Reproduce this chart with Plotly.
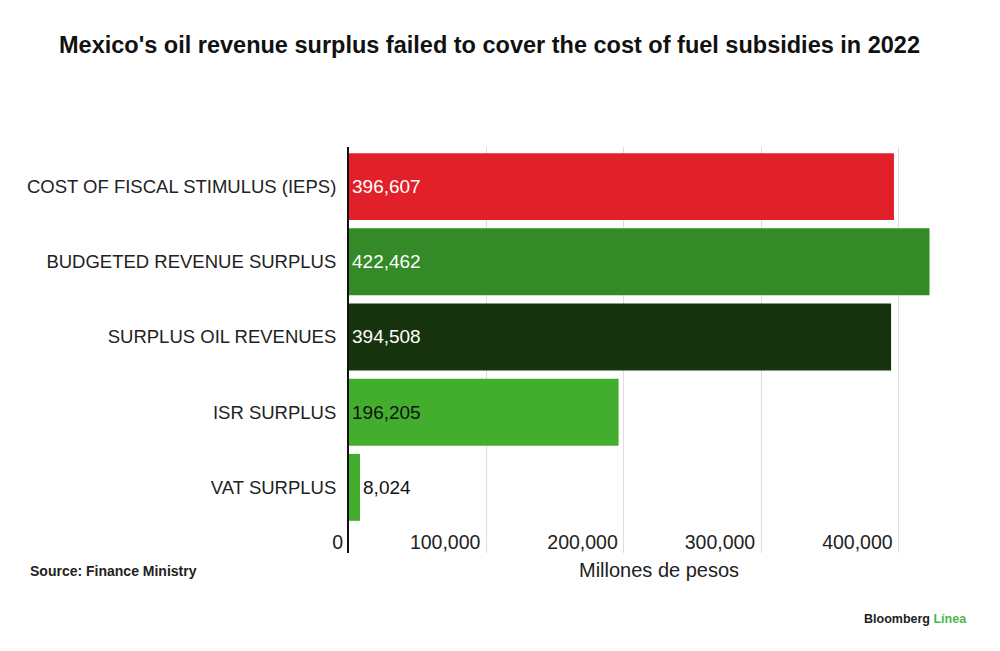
import plotly.graph_objects as go

categories = ["COST OF FISCAL STIMULUS (IEPS)", "BUDGETED REVENUE SURPLUS",
              "SURPLUS OIL REVENUES", "ISR SURPLUS", "VAT SURPLUS"]
values = [396607, 422462, 394508, 196205, 8024]
bar_colors = ["#E2202A", "#338A27", "#16330E", "#43AE2D", "#43AE2D"]
text_colors = ["white", "white", "white", "#111111", "#111111"]
text_positions = ["inside", "inside", "inside", "inside", "outside"]
tick_vals = [0, 100000, 200000, 300000, 400000]
tick_text = ["0", "100,000", "200,000", "300,000", "400,000"]

W, H = 1000, 651
L, R, T, B = 349, 965, 147, 553

def px(x):
    return (x - L) / (R - L)

def py(y):
    return (B - y) / (B - T)

fig = go.Figure(go.Bar(
    y=categories, x=values, orientation="h",
    marker=dict(color=bar_colors, line=dict(width=0)),
    text=[f"{v:,}" for v in values],
    textposition=text_positions,
    insidetextanchor="start",
    textfont=dict(color=text_colors, size=19, family="Liberation Sans"),
    cliponaxis=False,
    width=0.89,
))

fig.update_layout(
    width=W, height=H,
    margin=dict(l=L, r=W - R, t=T, b=H - B),
    paper_bgcolor="white", plot_bgcolor="white",
    showlegend=False,
    font=dict(family="Liberation Sans", color="#222222"),
    xaxis=dict(range=[0, 448300], tickvals=tick_vals, ticktext=tick_text,
               showgrid=True, gridcolor="#dddddd", gridwidth=1,
               zeroline=False, showline=False,
               ticklabelposition="inside left", ticklabeloverflow="allow",
               ticklabelshift=-6, ticklabelstandoff=-6,
               tickfont=dict(size=19.5, color="#222222")),
    yaxis=dict(range=[4.873, -0.527], showgrid=False, zeroline=False,
               showline=True, linecolor="#111111", linewidth=2,
               ticks="", ticklabelstandoff=7,
               tickfont=dict(size=18.5, color="#222222")),
    annotations=[
        dict(text="<b>Mexico's oil revenue surplus failed to cover the cost of fuel subsidies in 2022</b>",
             x=px(489), y=py(45), xref="paper", yref="paper", showarrow=False,
             xanchor="center", yanchor="middle",
             font=dict(size=23.5, color="#111111", family="Liberation Sans")),
        dict(text="<b>Source: Finance Ministry</b>", x=px(28), y=py(571),
             xref="paper", yref="paper", showarrow=False, xanchor="left", yanchor="middle",
             font=dict(size=14, color="#222222", family="Liberation Sans")),
        dict(text="Millones de pesos", x=px(659), y=py(570),
             xref="paper", yref="paper", showarrow=False, xanchor="center", yanchor="middle",
             font=dict(size=20, color="#222222", family="Liberation Sans")),
        dict(text="<b>Bloomberg <span style='color:#4DB848'>Línea</span></b>", x=px(969), y=py(619),
             xref="paper", yref="paper", showarrow=False, xanchor="right", yanchor="middle",
             font=dict(size=12.5, color="#222222", family="Liberation Sans")),
    ],
)

fig.write_html("out.html", config={"displayModeBar": False},
               post_script="document.body.style.margin='0';")
